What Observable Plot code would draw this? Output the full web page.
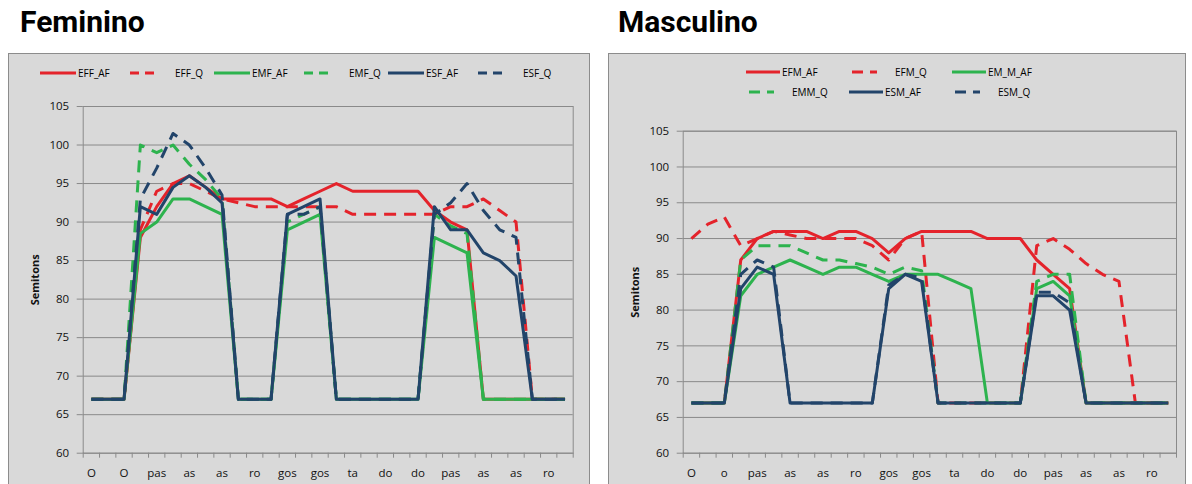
<!DOCTYPE html>
<html>
<head>
<meta charset="utf-8">
<script src="https://cdn.jsdelivr.net/npm/d3@7"></script>
<script src="https://cdn.jsdelivr.net/npm/@observablehq/plot@0.6"></script>
<style>
  html, body { margin: 0; padding: 0; background: #fff; }
  body { width: 1192px; height: 484px; overflow: hidden; position: relative; font-family: "Open Sans", sans-serif; }
  .title { position: absolute; font-family: Roboto, "Open Sans", sans-serif; font-weight: 700; font-size: 30px; line-height: 1; color: #000; white-space: nowrap; }
  .box { position: absolute; background: #d9d9d9; border: 1px solid #8c8c8c; box-sizing: border-box; }
  .chart { position: absolute; }
  .legend { position: absolute; font-size: 10px; color: #000; }
  .lrow { display: flex; align-items: center; height: 20px; }
  .lentry { display: flex; align-items: center; }
  .lentry svg { display: block; }
</style>
</head>
<body>
<script>
// ---------- data ----------
const nCategories = 30;
const femLabels  = ["O","O","pas","as","as","ro","gos","gos","ta","do","do","pas","as","as","ro"];
const mascLabels = ["O","o","pas","as","as","ro","gos","gos","ta","do","do","pas","as","as","ro"];
const yTicks = [60, 65, 70, 75, 80, 85, 90, 95, 100, 105];

// Feminino
const EFF_AF = [67,67,67,88,92,95,96,94.5,93,93,93,93,92,93,94,95,94,94,94,94,94,91.5,90,89,67,67,67,67,67,67];
const EFF_Q  = [67,67,67,89,94,95,95,94,93,92.5,92,92,92,92,92,92,91,91,91,91,91,91,92,92,93,91.5,90,67,67,67];
const EMF_AF = [67,67,67,88.5,90,93,93,92,91,67,67,67,89,90,91,67,67,67,67,67,67,88,87,86,67,67,67,67,67,67];
const EMF_Q  = [67,67,67,100,99,100,97.5,95.5,93,67,67,67,90,91,92,67,67,67,67,67,67,91,89.5,88.5,67,67,67,67,67,67];
const ESF_AF = [67,67,67,92,91,94.5,96,94.5,92.5,67,67,67,91,92,93,67,67,67,67,67,67,92,89,89,86,85,83,67,67,67];
const ESF_Q  = [67,67,67,93,97,101.5,100,97,93.5,67,67,67,91,91,92,67,67,67,67,67,67,91,92.5,95,91.5,89,88,67,67,67];

// Masculino
const EFM_AF  = [67,67,67,87,90,91,91,91,90,91,91,90,88,90,91,91,91,91,90,90,90,87,85,83,67,67,67,67,67,67];
const EFM_Q   = [90,92,93,89,90,91,90.5,90,90,90,90,89,87,90,91,67,67,67,67,67,67,89,90,88.5,86.5,85,84,67,67,67];
const EM_M_AF = [67,67,67,82,85,86,87,86,85,86,86,85,84,85,85,85,84,83,67,67,67,83,84,82,67,67,67,67,67,67];
const EMM_Q   = [67,67,67,87,89,89,89,88,87,87,86.5,86,85,86,85.5,67,67,67,67,67,67,84,85,85,67,67,67,67,67,67];
const ESM_AF  = [67,67,67,83,86,85,67,67,67,67,67,67,83,85,84,67,67,67,67,67,67,82,82,80,67,67,67,67,67,67];
const ESM_Q   = [67,67,67,85,87,86,67,67,67,67,67,67,83.5,85,84.5,67,67,67,67,67,67,82.5,82.5,81,67,67,67,67,67,67];

const femNames  = ["EFF_AF","EFF_Q","EMF_AF","EMF_Q","ESF_AF","ESF_Q"];
const mascNames = ["EFM_AF","EFM_Q","EM_M_AF","EMM_Q","ESM_AF","ESM_Q"];
const femSeries  = [EFF_AF, EFF_Q, EMF_AF, EMF_Q, ESF_AF, ESF_Q];
const mascSeries = [EFM_AF, EFM_Q, EM_M_AF, EMM_Q, ESM_AF, ESM_Q];

// ---------- styles ----------
const seriesColors = ["#e4232b", "#e4232b", "#2db34e", "#2db34e", "#22446a", "#22446a"];
const seriesDashed = [false, true, false, true, false, true];
const gridColor = "#8a8a8a";

function makeChart(series, labels, cfg) {
  const marks = [
    Plot.gridY(yTicks, {stroke: gridColor, strokeOpacity: 1, strokeWidth: 1}),
    Plot.frame({stroke: gridColor}),
    Plot.axisY(yTicks, {tickSize: 6, tickPadding: 8, stroke: gridColor, fill: "#111", fontSize: 11.5, label: null}),
    Plot.axisX(d3.range(0, nCategories + 1), {tickSize: 5, tickFormat: () => "", stroke: gridColor, label: null}),
    Plot.axisX(labels.map((_, k) => 2 * k + 0.5), {tickSize: 0, tickPadding: 16, tickFormat: d => labels[(d - 0.5) / 2], fill: "#111", fontSize: 11.5, label: null})
  ];
  series.forEach((vals, s) => {
    marks.push(Plot.line(vals, {
      x: (d, i) => i + 0.5,
      y: d => d,
      stroke: seriesColors[s],
      strokeWidth: 3,
      strokeDasharray: seriesDashed[s] ? "12,8" : null,
      strokeLinejoin: "round",
      strokeLinecap: "butt"
    }));
  });
  marks.push(Plot.text(["Semitons"], {
    frameAnchor: "left", text: d => d, rotate: -90, dx: cfg.labelDx,
    textAnchor: "middle", fontWeight: "bold", fontSize: 11, fill: "#111"
  }));
  return Plot.plot({
    width: cfg.width, height: cfg.height,
    marginLeft: cfg.ml, marginRight: cfg.mr, marginTop: cfg.mt, marginBottom: cfg.mb,
    x: {type: "linear", domain: [0, nCategories]},
    y: {type: "linear", domain: [60, 105]},
    style: {background: "transparent", fontFamily: "'Open Sans', sans-serif", overflow: "visible"},
    marks
  });
}

function makeLegend(rows, names, cfg) {
  const div = document.createElement("div");
  div.className = "legend";
  div.style.left = cfg.left + "px";
  div.style.top = cfg.top + "px";
  rows.forEach(row => {
    const r = document.createElement("div");
    r.className = "lrow";
    row.forEach(s => {
      const e = document.createElement("div");
      e.className = "lentry";
      e.style.width = cfg.entryWidth + "px";
      const w = seriesDashed[s] ? cfg.sampleW + 6 : cfg.sampleW;
      const svg = d3.create("svg").attr("width", w).attr("height", 8);
      if (seriesDashed[s]) {
        svg.append("line").attr("x1", 3).attr("x2", cfg.sampleW - 6).attr("y1", 4).attr("y2", 4)
          .attr("stroke", seriesColors[s]).attr("stroke-width", 3).attr("stroke-dasharray", cfg.dash);
      } else {
        svg.append("line").attr("x1", 0).attr("x2", w).attr("y1", 4).attr("y2", 4)
          .attr("stroke", seriesColors[s]).attr("stroke-width", 3);
      }
      e.appendChild(svg.node());
      const t = document.createElement("span");
      t.textContent = names[s];
      t.style.marginLeft = (seriesDashed[s] ? 6 : 2) + "px";
      e.appendChild(t);
      r.appendChild(e);
    });
    div.appendChild(r);
  });
  return div;
}

function addPanel(p) {
  const title = document.createElement("div");
  title.className = "title";
  title.textContent = p.title;
  title.style.left = p.titleX + "px";
  title.style.top = "7px";
  document.body.appendChild(title);

  const box = document.createElement("div");
  box.className = "box";
  box.style.left = p.boxX + "px";
  box.style.top = p.boxY + "px";
  box.style.width = p.boxW + "px";
  box.style.height = "460px";
  document.body.appendChild(box);

  const svg = makeChart(p.series, p.labels, {
    width: p.boxW, height: 484 - p.boxY,
    ml: p.ml, mr: p.mr, mt: p.mt, mb: 484 - 452.7,
    labelDx: p.labelDx
  });
  const wrap = document.createElement("div");
  wrap.className = "chart";
  wrap.style.left = p.boxX + "px";
  wrap.style.top = p.boxY + "px";
  wrap.appendChild(svg);
  document.body.appendChild(wrap);

  document.body.appendChild(makeLegend(p.legendRows, p.names, p.legend));
}

addPanel({
  title: "Feminino", titleX: 20,
  boxX: 8, boxY: 53, boxW: 582,
  ml: 74.7, mr: 17.3, mt: 53, labelDx: -47.7,
  series: femSeries, labels: femLabels, names: femNames,
  legendRows: [[0, 1, 2, 3, 4, 5]],
  legend: {left: 40, top: 63, entryWidth: 87, sampleW: 36, dash: "9,6"}
});

addPanel({
  title: "Masculino", titleX: 618,
  boxX: 608, boxY: 53, boxW: 578,
  ml: 74.7, mr: 10, mt: 77.7, labelDx: -47.7,
  series: mascSeries, labels: mascLabels, names: mascNames,
  legendRows: [[0, 1, 2], [3, 4, 5]],
  legend: {left: 746, top: 62, entryWidth: 103, sampleW: 34, dash: "11,7"}
});
</script>
</body>
</html>
